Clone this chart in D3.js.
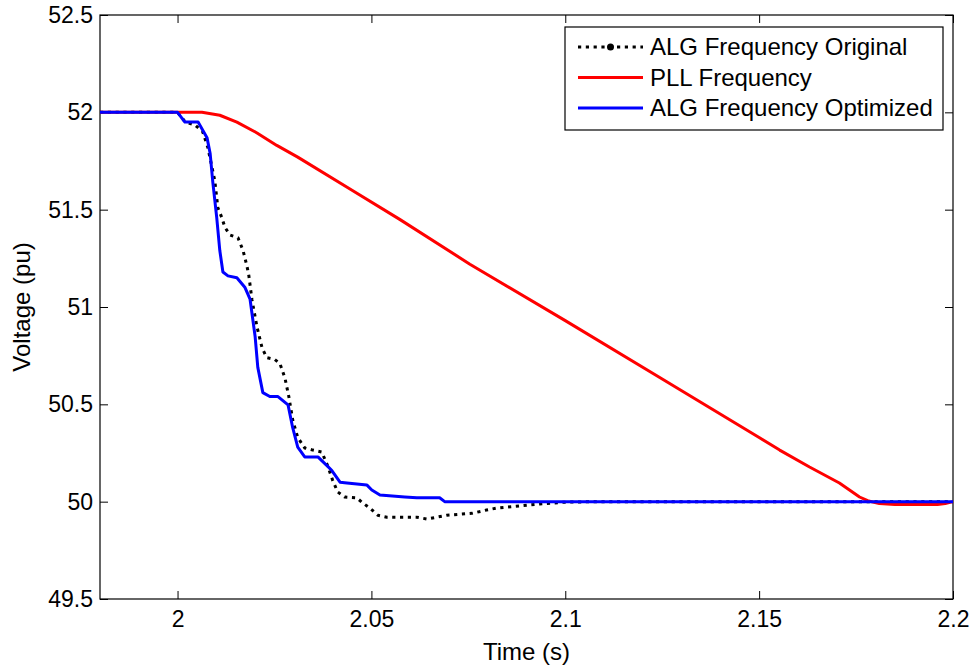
<!DOCTYPE html>
<html>
<head>
<meta charset="utf-8">
<script src="https://cdn.jsdelivr.net/npm/d3@7"></script>
<style>
  body { margin: 0; background: #fff; }
  svg { display: block; font-family: "Liberation Sans", Arial, Helvetica, sans-serif; }
</style>
</head>
<body>
<svg id="chart"></svg>
<script>
// tick labels
const xTicks = [2, 2.05, 2.1, 2.15, 2.2]
const yTicks = [49.5, 50, 50.5, 51, 51.5, 52, 52.5]

// ALG Frequency Original (black dotted)
const origTime = [1.98, 2.0, 2.002, 2.0045, 2.0065, 2.0078, 2.0096, 2.0104, 2.0114, 2.0122, 2.0135, 2.0156, 2.0169, 2.0179, 2.0184, 2.0192, 2.0205, 2.0218, 2.023, 2.0251, 2.0264, 2.0277, 2.0287, 2.0297, 2.031, 2.0328, 2.0349, 2.0372, 2.0388, 2.04, 2.0413, 2.0431, 2.0462, 2.0478, 2.0496, 2.0517, 2.054, 2.0617, 2.0643, 2.0668, 2.0694, 2.0759, 2.0797, 2.0823, 2.0882, 2.0934, 2.1004, 2.11, 2.2]
const origFreq = [52.0, 52.0, 51.95, 51.935, 51.9, 51.82, 51.65, 51.51, 51.46, 51.41, 51.37, 51.355, 51.29, 51.21, 51.16, 51.036, 50.897, 50.79, 50.74, 50.73, 50.71, 50.635, 50.54, 50.42, 50.33, 50.276, 50.265, 50.255, 50.18, 50.11, 50.05, 50.024, 50.02, 49.993, 49.967, 49.93, 49.92, 49.92, 49.911, 49.92, 49.93, 49.94, 49.957, 49.967, 49.978, 49.988, 49.998, 50.0, 50.0]

// PLL Frequency (red)
const pllTime = [1.98, 2.0063, 2.0109, 2.0153, 2.0205, 2.0256, 2.031, 2.045, 2.0573, 2.0754, 2.1, 2.125, 2.15, 2.1553, 2.163, 2.1707, 2.1759, 2.178, 2.181, 2.185, 2.196, 2.198, 2.2]
const pllFreq = [52.0, 52.0, 51.985, 51.95, 51.894, 51.83, 51.77, 51.6, 51.45, 51.22, 50.93, 50.63, 50.33, 50.265, 50.178, 50.096, 50.024, 50.005, 49.99, 49.985, 49.985, 49.99, 50.0]

// ALG Frequency Optimized (blue)
const optTime = [1.98, 2.0, 2.0019, 2.0053, 2.0076, 2.0084, 2.0091, 2.0101, 2.0109, 2.0117, 2.013, 2.0153, 2.0174, 2.0187, 2.02, 2.0207, 2.022, 2.0238, 2.0259, 2.0285, 2.0297, 2.031, 2.0328, 2.0362, 2.0388, 2.0398, 2.0419, 2.0437, 2.0488, 2.0501, 2.0522, 2.0586, 2.0617, 2.0676, 2.0689, 2.2]
const optFreq = [52.0, 52.0, 51.95, 51.95, 51.87, 51.79, 51.64, 51.46, 51.29, 51.18, 51.16, 51.15, 51.1, 51.04, 50.85, 50.69, 50.56, 50.54, 50.54, 50.497, 50.38, 50.28, 50.23, 50.23, 50.18, 50.16, 50.1, 50.096, 50.086, 50.06, 50.034, 50.024, 50.02, 50.02, 50.0, 50.0]

const width = 976
const height = 669
const margin = { left: 100, right: 23, top: 15, bottom: 70 }
const innerW = width - margin.left - margin.right
const innerH = height - margin.top - margin.bottom
const tickLen = 8

const svg = d3.select('#chart')
  .attr('width', width)
  .attr('height', height)

const x = d3.scaleLinear().domain([1.98, 2.2]).range([margin.left, margin.left + innerW])
const y = d3.scaleLinear().domain([49.5, 52.5]).range([margin.top + innerH, margin.top])

// axes (matlab style, ticks pointing inward on all four sides)
const gx = svg.append('g')
  .attr('transform', `translate(0,${margin.top + innerH})`)
  .call(d3.axisBottom(x).tickValues(xTicks).tickFormat(d => d)
    .tickSizeInner(-tickLen).tickSizeOuter(0).tickPadding(12))
const gxTop = svg.append('g')
  .attr('transform', `translate(0,${margin.top})`)
  .call(d3.axisTop(x).tickValues(xTicks).tickFormat('')
    .tickSizeInner(-tickLen).tickSizeOuter(0))
const gy = svg.append('g')
  .attr('transform', `translate(${margin.left},0)`)
  .call(d3.axisLeft(y).tickValues(yTicks).tickFormat(d => d)
    .tickSizeInner(-tickLen).tickSizeOuter(0).tickPadding(7))
const gyRight = svg.append('g')
  .attr('transform', `translate(${margin.left + innerW},0)`)
  .call(d3.axisRight(y).tickValues(yTicks).tickFormat('')
    .tickSizeInner(-tickLen).tickSizeOuter(0))

;[gx, gxTop, gy, gyRight].forEach(g => {
  g.select('.domain').remove()
  g.selectAll('line').attr('stroke', '#000').attr('stroke-width', 1)
  g.selectAll('text').attr('fill', '#000').style('font-size', '23px')
    .style('font-family', '"Liberation Sans", Arial, sans-serif')
})

// frame
svg.append('rect')
  .attr('x', margin.left)
  .attr('y', margin.top)
  .attr('width', innerW)
  .attr('height', innerH)
  .attr('fill', 'none')
  .attr('stroke', '#000')
  .attr('stroke-width', 1.2)

// axis labels
svg.append('text')
  .attr('x', x(2.09))
  .attr('y', 660)
  .attr('text-anchor', 'middle')
  .style('font-size', '24px')
  .text('Time (s)')

svg.append('text')
  .attr('transform', `translate(30,${margin.top + innerH / 2}) rotate(-90)`)
  .attr('text-anchor', 'middle')
  .style('font-size', '24px')
  .text('Voltage (pu)')

// series
const line = d3.line().x(d => x(d[0])).y(d => y(d[1]))
const series = [
  { name: 'ALG Frequency Original', t: origTime, v: origFreq, color: '#000', dash: '3.2,4.6' },
  { name: 'PLL Frequency', t: pllTime, v: pllFreq, color: '#ff0000', dash: null },
  { name: 'ALG Frequency Optimized', t: optTime, v: optFreq, color: '#0000ff', dash: null }
]

const plot = svg.append('g')
series.forEach(s => {
  plot.append('path')
    .datum(s.t.map((t, i) => [t, s.v[i]]))
    .attr('d', line)
    .attr('fill', 'none')
    .attr('stroke', s.color)
    .attr('stroke-width', 3)
    .attr('stroke-linejoin', 'round')
    .attr('stroke-dasharray', s.dash)
})

// legend
const legend = svg.append('g').attr('transform', 'translate(565,27)')
legend.append('rect')
  .attr('width', 378)
  .attr('height', 103)
  .attr('fill', '#fff')
  .attr('stroke', '#000')
  .attr('stroke-width', 1.2)

series.forEach((s, i) => {
  const ly = 20 + i * 30.5
  legend.append('line')
    .attr('x1', 13).attr('x2', 78)
    .attr('y1', ly).attr('y2', ly)
    .attr('stroke', s.color)
    .attr('stroke-width', 3)
    .attr('stroke-dasharray', s.dash)
  if (i === 0) {
    legend.append('circle')
      .attr('cx', 45.5).attr('cy', ly).attr('r', 3.5)
      .attr('fill', '#000')
  }
  legend.append('text')
    .attr('x', 85)
    .attr('y', ly)
    .attr('dy', '0.35em')
    .style('font-size', '24px')
    .text(s.name)
})
</script>
</body>
</html>
